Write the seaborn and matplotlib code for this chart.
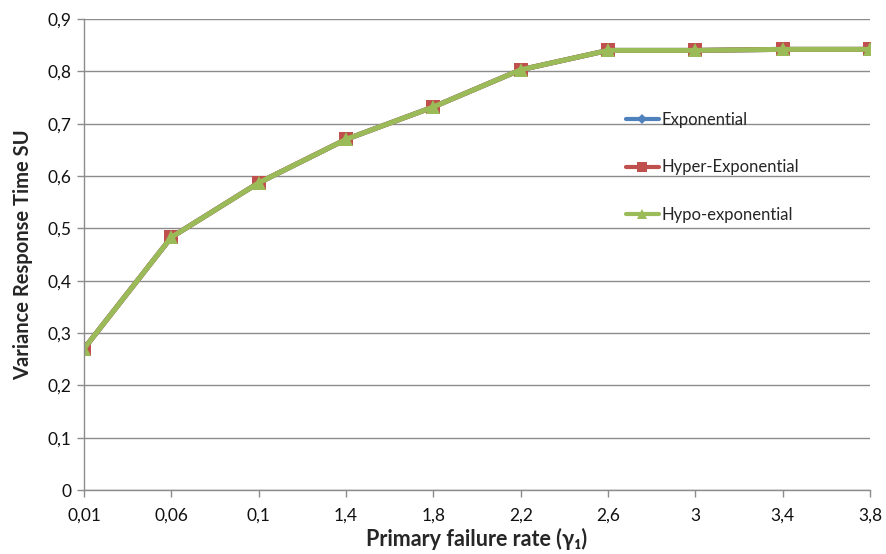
import matplotlib
matplotlib.use("Agg")
import matplotlib.pyplot as plt
import seaborn as sns
import pandas as pd

categories = ["0,01", "0,06", "0,1", "1,4", "1,8", "2,2", "2,6", "3", "3,4", "3,8"]
exponential = [0.270, 0.483, 0.587, 0.670, 0.732, 0.803, 0.840, 0.840, 0.842, 0.842]
hyper_exponential = [0.270, 0.483, 0.587, 0.670, 0.732, 0.803, 0.840, 0.840, 0.842, 0.842]
hypo_exponential = [0.270, 0.483, 0.587, 0.670, 0.732, 0.803, 0.840, 0.840, 0.842, 0.842]
series_names = ["Exponential", "Hyper-Exponential", "Hypo-exponential"]
y_ticks = [0.0, 0.1, 0.2, 0.3, 0.4, 0.5, 0.6, 0.7, 0.8, 0.9]
y_tick_labels = ["0", "0,1", "0,2", "0,3", "0,4", "0,5", "0,6", "0,7", "0,8", "0,9"]

sns.set_theme(style="white")
plt.rcParams["font.family"] = ["Lato", "DejaVu Sans"]

rows = []
for name, vals in zip(series_names, [exponential, hyper_exponential, hypo_exponential]):
    for c, v in zip(categories, vals):
        rows.append({"cat": c, "value": v, "series": name})
df = pd.DataFrame(rows)

colors = {"Exponential": "#4F81BD", "Hyper-Exponential": "#C0504D", "Hypo-exponential": "#9BBB59"}
markers = {"Exponential": "D", "Hyper-Exponential": "s", "Hypo-exponential": "^"}

fig = plt.figure(figsize=(8.86, 5.54), dpi=100)
ax = fig.add_axes([0.0948, 0.1155, 0.8872, 0.8502])

sns.lineplot(data=df, x="cat", y="value", hue="series", style="series",
             palette=colors, markers=markers, dashes=False, linewidth=3.6,
             markersize=9.5, markeredgewidth=0, ax=ax, sort=False)
for line in ax.lines:
    if line.get_marker() == "D":
        line.set_markersize(6)
    elif line.get_marker() == "^":
        line.set_markersize(10.5)

ax.set_ylim(0, 0.9)
ax.set_xlim(0, len(categories) - 1)
ax.set_yticks(y_ticks)
ax.set_yticklabels(y_tick_labels)
ax.yaxis.grid(True, color="#8c8c8c", linewidth=1.0)
ax.xaxis.grid(False)
ax.set_axisbelow(True)
for s in ["top", "right"]:
    ax.spines[s].set_visible(False)
for s in ["left", "bottom"]:
    ax.spines[s].set_color("#8c8c8c")
    ax.spines[s].set_linewidth(1.0)
ax.tick_params(axis="both", which="both", direction="out", length=5, width=1,
               color="#8c8c8c", labelsize=12.5, labelcolor="#111111", pad=4,
               bottom=True, left=True)
ax.tick_params(axis="x", pad=8)

ax.set_xlabel("Primary failure rate (γ₁)", fontsize=15.5, fontweight="bold", labelpad=3)
ax.set_ylabel("Variance Response Time SU", fontsize=14.5, fontweight="bold", labelpad=10)

leg = ax.legend(loc="upper left", bbox_to_anchor=(0.67, 0.835), frameon=False,
                fontsize=12, handlelength=2.0, handletextpad=0.15, labelspacing=1.9,
                title=None)
for h in leg.legend_handles:
    h.set_linewidth(3)
    if h.get_marker() == "D":
        h.set_markersize(5)
    else:
        h.set_markersize(7)

fig.savefig("out.png", dpi=100)
